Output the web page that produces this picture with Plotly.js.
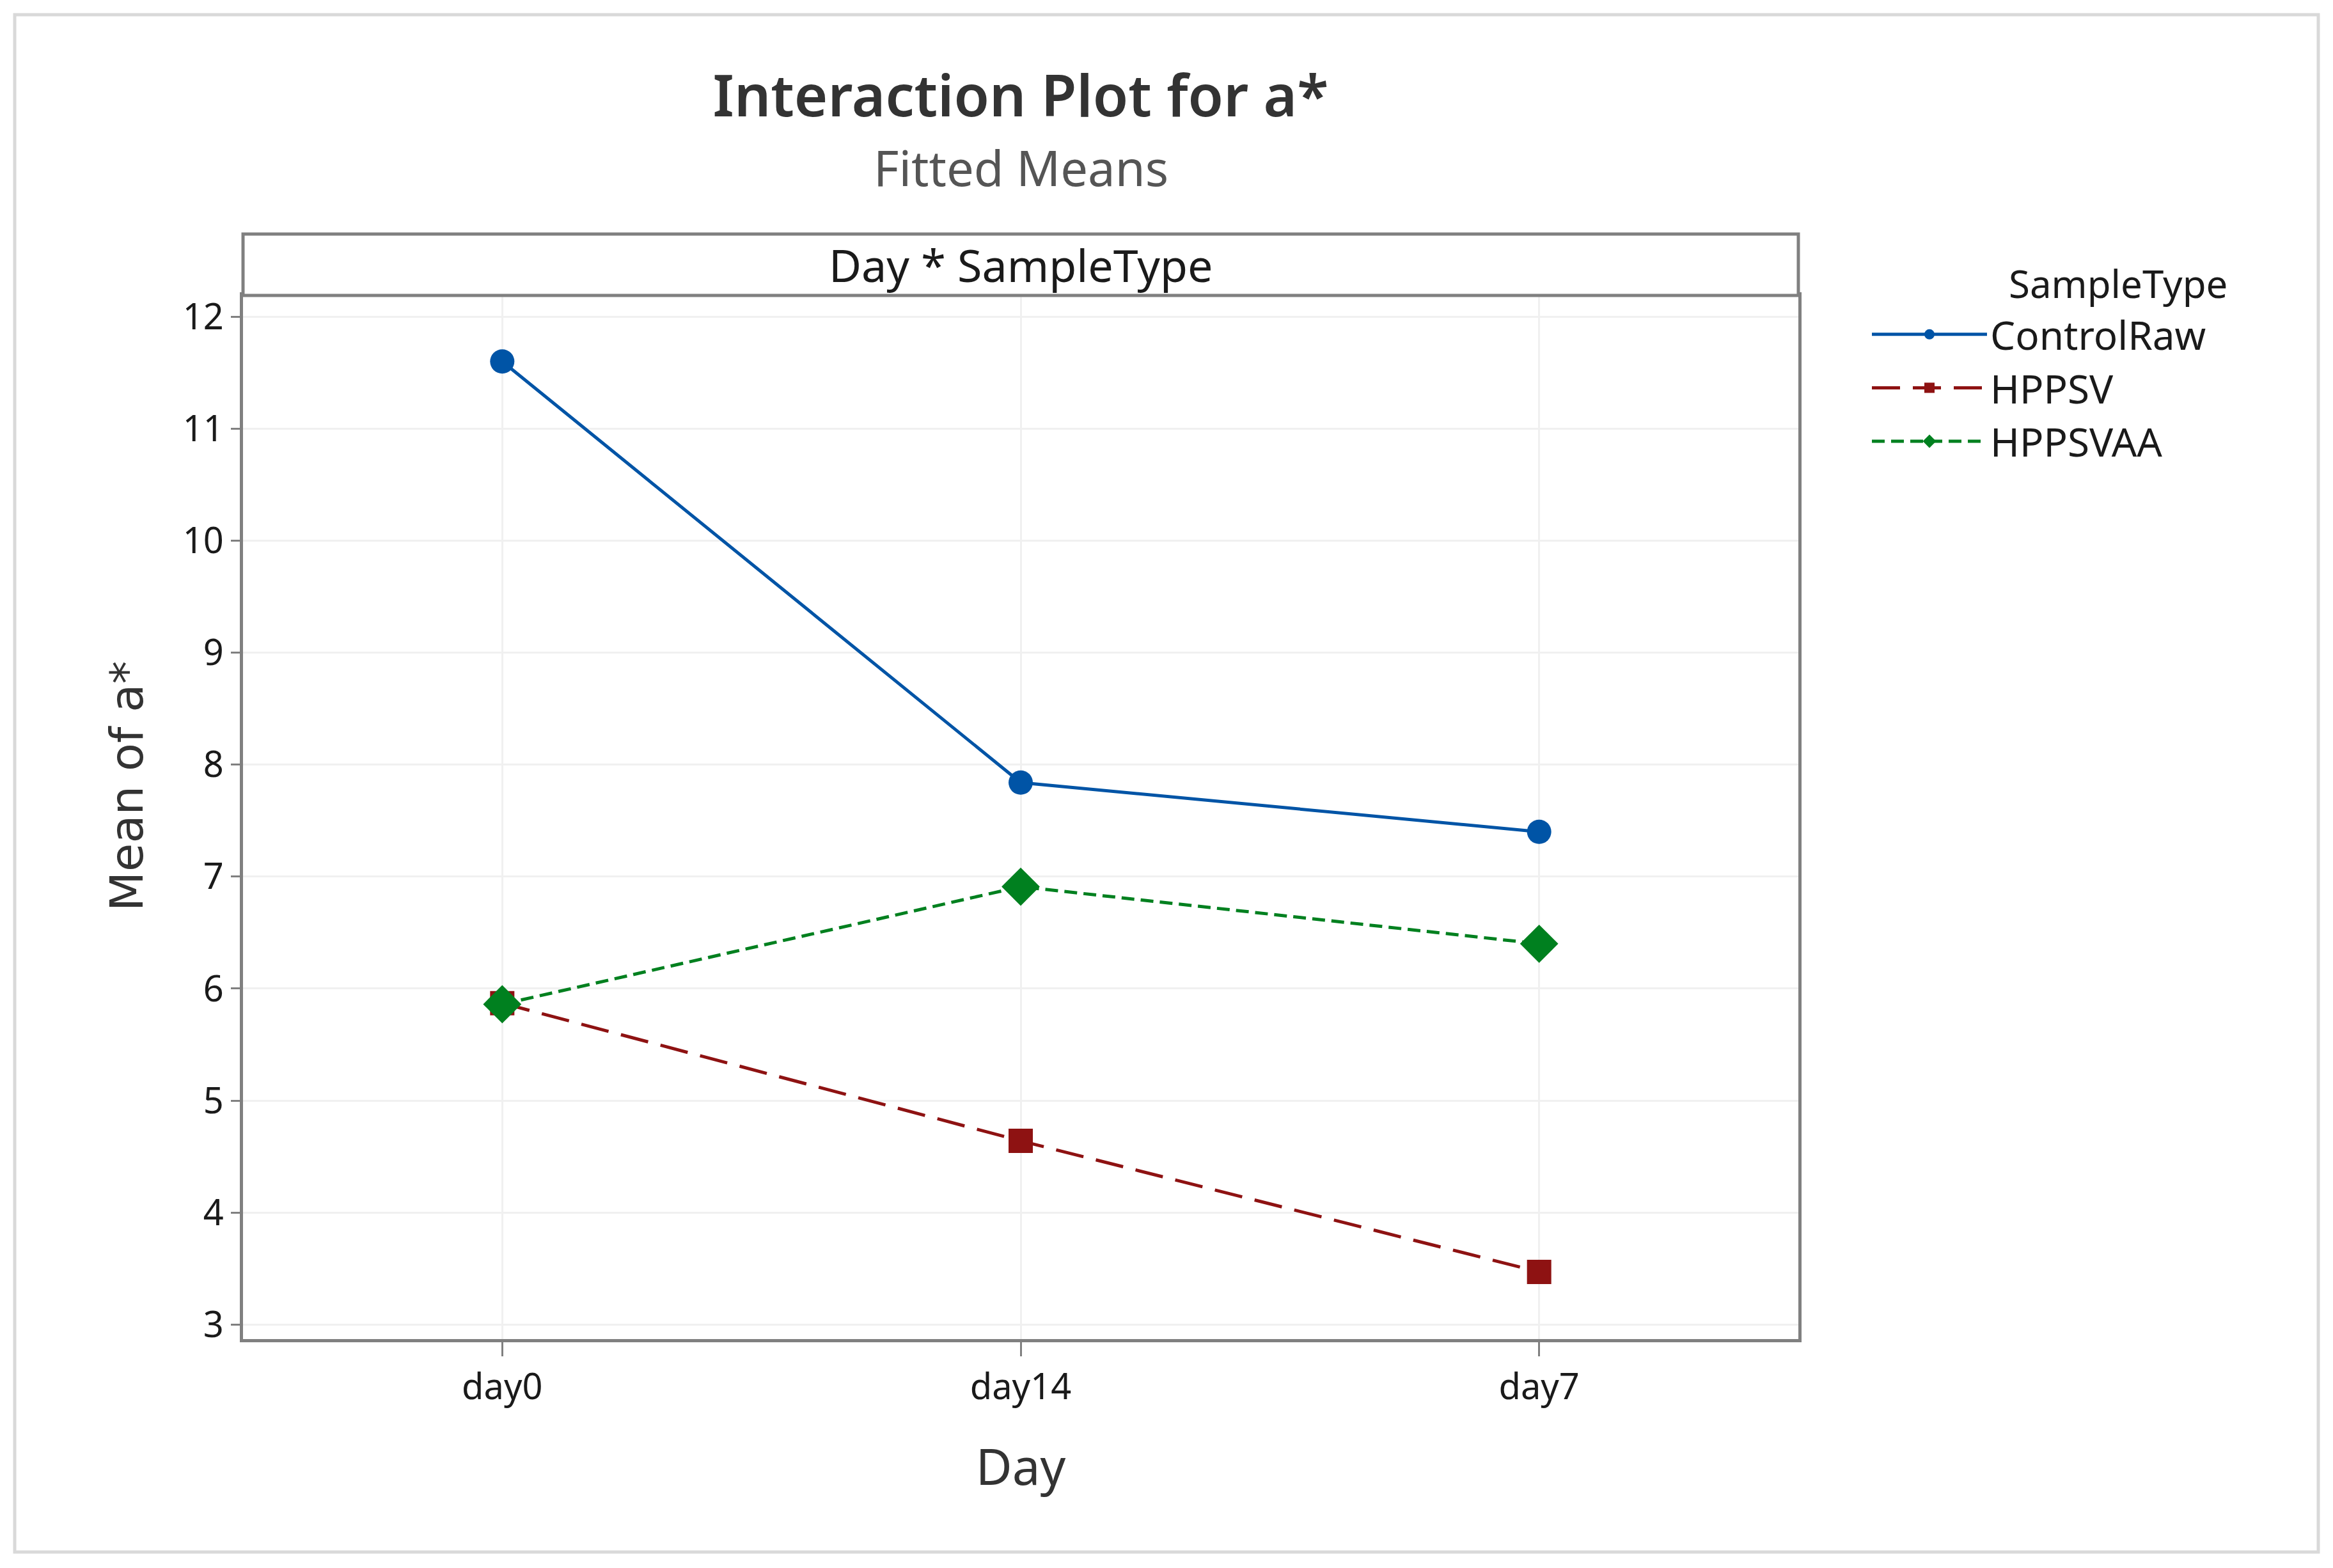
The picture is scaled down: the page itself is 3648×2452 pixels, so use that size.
<!DOCTYPE html>
<html>
<head>
<meta charset="utf-8">
<script src="https://cdn.plot.ly/plotly-3.0.1.min.js"></script>
<style>html,body{margin:0;padding:0;background:#fff;}#chart{width:3648px;height:2452px;}</style>
</head>
<body>
<div id="chart"></div>
<script>
// Data
const days = ["day0", "day14", "day7"];
const controlRaw = [11.60, 7.84, 7.40];
const hppsv = [5.87, 4.64, 3.47];
const hppsvaa = [5.86, 6.91, 6.40];
const seriesNames = ["ControlRaw", "HPPSV", "HPPSVAA"];
const yTicks = [3, 4, 5, 6, 7, 8, 9, 10, 11, 12];

const FONT = "Noto Sans, Open Sans, sans-serif";

const traces = [
  {
    x: days, y: controlRaw, name: seriesNames[0], type: "scatter", mode: "lines+markers",
    line: {color: "#0054A6", width: 5},
    marker: {symbol: "circle", size: 38, color: "#0054A6"}
  },
  {
    x: days, y: hppsv, name: seriesNames[1], type: "scatter", mode: "lines+markers",
    line: {color: "#8E1212", width: 5, dash: "44px,20px"},
    marker: {symbol: "square", size: 38, color: "#8E1212"}
  },
  {
    x: days, y: hppsvaa, name: seriesNames[2], type: "scatter", mode: "lines+markers",
    line: {color: "#00801F", width: 5, dash: "20px,10px"},
    marker: {symbol: "diamond", size: 46, color: "#00801F"}
  }
];

const layout = {
  width: 3648, height: 2452,
  paper_bgcolor: "#ffffff", plot_bgcolor: "#ffffff",
  margin: {l: 380, r: 836, t: 462, b: 358, pad: 0},
  font: {family: FONT, color: "#1a1a1a"},
  title: {
    text: "Interaction Plot for a*",
    font: {family: FONT, size: 90, color: "#333333", weight: 600},
    x: 0.4375, xanchor: "center", xref: "container",
    y: 1 - 150/2452, yanchor: "middle", yref: "container"
  },
  xaxis: {
    type: "category", categoryorder: "array", categoryarray: days,
    range: [-0.5, 2.5],
    showline: true, mirror: true, linecolor: "#808080", linewidth: 5,
    showgrid: true, gridcolor: "#f0f0f0", gridwidth: 3,
    ticks: "outside", ticklen: 22, tickwidth: 3, tickcolor: "#808080",
    tickfont: {family: FONT, size: 56, color: "#1a1a1a"},
    title: {text: "Day", font: {family: FONT, size: 78, color: "#333333"}, standoff: 66},
    zeroline: false, automargin: false
  },
  yaxis: {
    range: [2.87, 12.19],
    tickmode: "array", tickvals: yTicks, ticktext: yTicks.map(String),
    showline: true, mirror: true, linecolor: "#808080", linewidth: 5,
    showgrid: true, gridcolor: "#f0f0f0", gridwidth: 3,
    ticks: "outside", ticklen: 14, tickwidth: 3, tickcolor: "#808080",
    tickfont: {family: FONT, size: 56, color: "#1a1a1a"},
    zeroline: false, automargin: false
  },
  showlegend: true,
  legend: {
    x: (2922 - 380) / 2432, xanchor: "left",
    y: (2094 - 476) / 1632, yanchor: "top",
    bgcolor: "rgba(0,0,0,0)",
    font: {family: FONT, size: 62, color: "#1a1a1a"},
    itemwidth: 180, tracegroupgap: 0
  },
  shapes: [
    // outer border
    {type: "rect", xref: "paper", yref: "paper",
     x0: (23 - 380) / 2432, x1: (3625 - 380) / 2432,
     y0: (2094 - 2427) / 1632, y1: (2094 - 23) / 1632,
     line: {color: "#d9d9d9", width: 5}, fillcolor: "rgba(0,0,0,0)", layer: "below"},
    // strip header
    {type: "rect", xref: "paper", yref: "paper",
     x0: 0, x1: 1, y0: 1, y1: 1 + 96 / 1632,
     line: {color: "#808080", width: 5}, fillcolor: "#ffffff"}
  ],
  annotations: [
    {text: "Fitted Means", xref: "paper", yref: "paper", x: 0.5, y: (2094 - 261) / 1632,
     xanchor: "center", yanchor: "middle", showarrow: false,
     font: {family: FONT, size: 76, color: "#555555"}},
    {text: "Day * SampleType", xref: "paper", yref: "paper", x: 0.5, y: 1 + 48 / 1632,
     xanchor: "center", yanchor: "middle", showarrow: false,
     font: {family: FONT, size: 70, color: "#1a1a1a"}},
    {text: "SampleType", xref: "paper", yref: "paper", x: (3139 - 380) / 2432, y: (2094 - 443) / 1632,
     xanchor: "left", yanchor: "middle", showarrow: false,
     font: {family: FONT, size: 60, color: "#1a1a1a"}},
    {text: "Mean of a*", xref: "paper", yref: "paper", x: (198 - 380) / 2432, y: (2094 - 1230) / 1632,
     xanchor: "center", yanchor: "middle", showarrow: false, textangle: -90,
     font: {family: "DejaVu Sans, sans-serif", size: 72, color: "#333333"}}
  ]
};

Plotly.newPlot("chart", traces, layout, {displayModeBar: false, staticPlot: true});
</script>
</body>
</html>
